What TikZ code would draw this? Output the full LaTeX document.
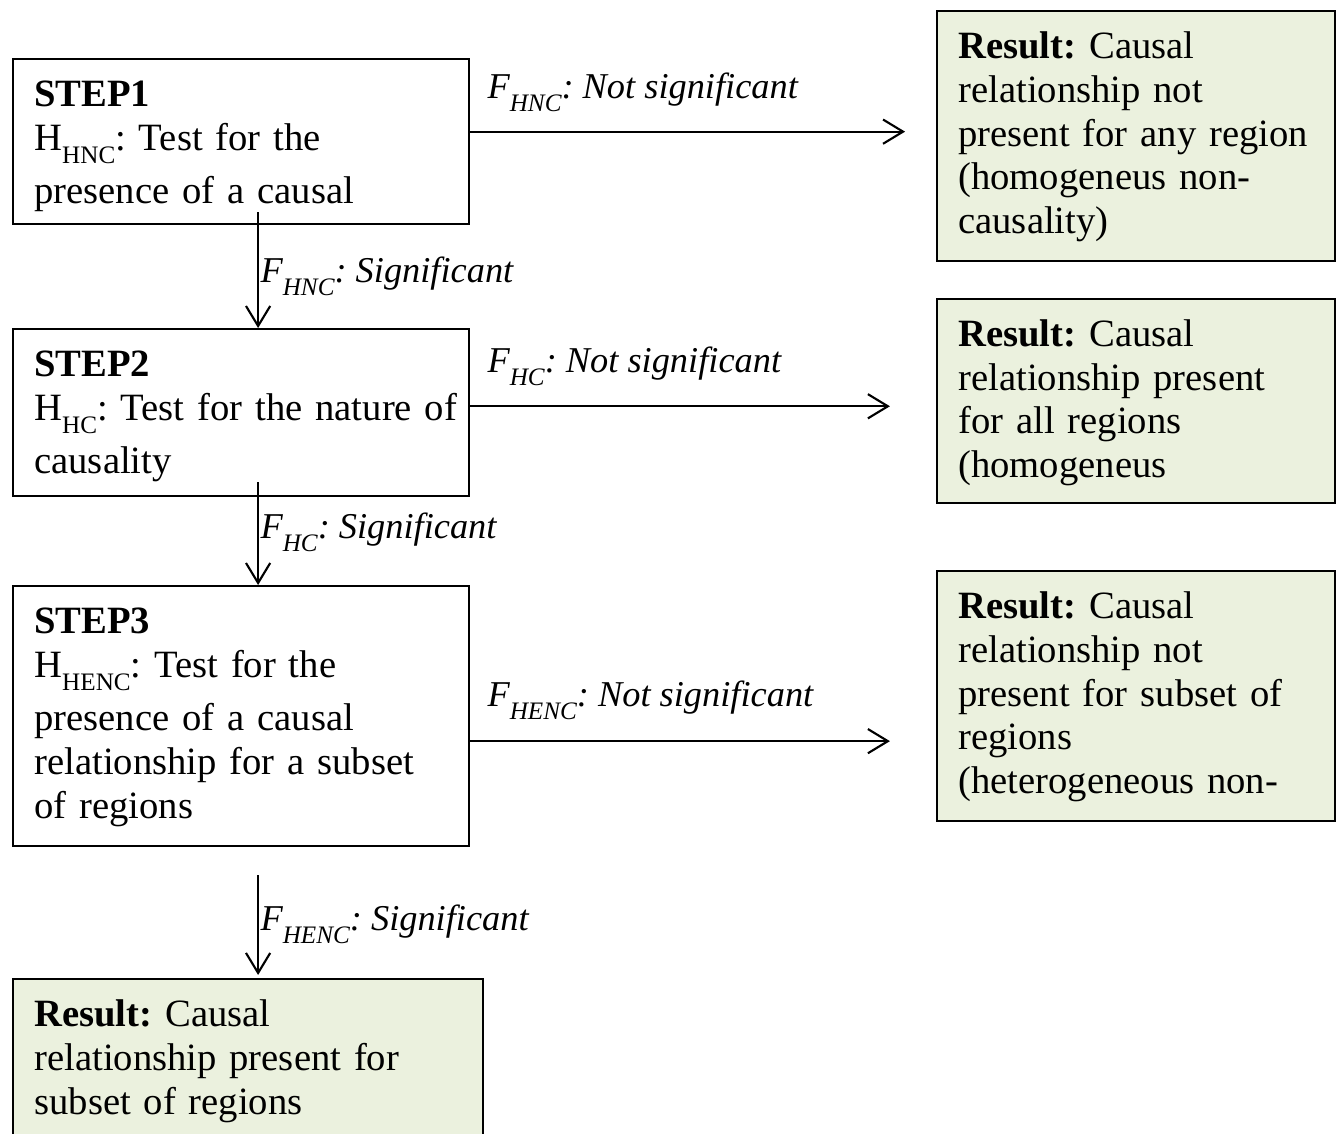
\documentclass[tikz,border=0pt]{standalone}
\usepackage{fontspec}
\setmainfont{Liberation Serif}
\usepackage{xcolor}
\usetikzlibrary{arrows.meta,positioning,calc}
\definecolor{resfill}{HTML}{EBF1DE}
\frenchspacing
\hyphenpenalty=10000
\newcommand{\lowsub}[1]{\raisebox{-4.5pt}{\fontsize{8.3}{8.3}\selectfont #1}}
\newcommand{\keeplines}{\rightskip=0pt plus 1fil minus 40pt\relax}
\tikzset{stepbox/.style={draw=black,line width=0.75pt,anchor=north west,align=left,
  inner xsep=7pt,inner ysep=0pt,text width=136.48pt,text height=15.5pt,text depth=#1,
  font=\fontsize{12.75}{14.5}\selectfont},
  resbox/.style={stepbox=#1,fill=resfill,text width=117.34pt},
  arrow/.style={-{Straight Barb[length=6.6pt,width=8pt]},line width=0.7pt},
  lbl/.style={anchor=base west,inner sep=0pt,font=\fontsize{12}{14.5}\selectfont\itshape}}

\begin{document}
\begin{tikzpicture}[x=0.33pt,y=-0.33pt]
\useasboundingbox (0,0) rectangle (1336,1133);
\clip (0,0) rectangle (1336,1133);
% test steps
\node[stepbox=38.95pt] (step1) at (12,58) {\keeplines\textbf{STEP1}\\H\lowsub{HNC}: Test for the\\[3.3pt]presence of a causal};
\node[stepbox=39.6pt] (step2) at (12,328) {\keeplines\textbf{STEP2}\\H\lowsub{HC}: Test for the nature of\\[3.3pt]causality};
\node[stepbox=70.3pt] (step3) at (12,585) {\keeplines\textbf{STEP3}\\H\lowsub{HENC}: Test for the\\[3.3pt]presence of a causal\\relationship for a subset\\of regions};
% results
\node[resbox=67pt] (res1) at (936,10) {\keeplines\textbf{Result:} Causal\\relationship not\\present for any region\\(homogeneus non-\\causality)};
\node[resbox=51.8pt] (res2) at (936,298) {\keeplines\textbf{Result:} Causal\\relationship present\\for all regions\\(homogeneus};
\node[resbox=67pt] (res3) at (936,570) {\keeplines\textbf{Result:} Causal\\relationship not\\present for subset of\\regions\\(heterogeneous non-};
\node[resbox=60pt,text width=141.1pt] (res4) at (12,978) {\keeplines\textbf{Result:} Causal\\relationship present for\\subset of regions};
% labels
\node[lbl] (ns1) at (487,98) {F\lowsub{HNC}: Not significant};
\node[lbl] (sg1) at (260,282) {F\lowsub{HNC}: Significant};
\node[lbl] (ns2) at (487,372) {F\lowsub{HC}: Not significant};
\node[lbl] (sg2) at (260,538) {F\lowsub{HC}: Significant};
\node[lbl] (ns3) at (487,706) {F\lowsub{HENC}: Not significant};
\node[lbl] (sg3) at (260,930) {F\lowsub{HENC}: Significant};
% arrows
\draw[arrow,shorten >=10.2pt] ([yshift=3.3pt]step1.east) -- ([yshift=3.3pt]step1.east -| res1.west);
\draw[arrow,shorten >=15.2pt] ([yshift=2.1pt]step2.east) -- ([yshift=2.1pt]step2.east -| res2.west);
\draw[arrow,shorten >=15.2pt] ([yshift=-8.25pt]step3.east) -- ([yshift=-8.25pt]step3.east -| res3.west);
\draw[arrow,shorten <=-4.3pt] ([xshift=5.6pt]step1.south) -- ([xshift=5.6pt]step1.south |- step2.north);
\draw[arrow,shorten <=-5pt] ([xshift=5.6pt]step2.south) -- ([xshift=5.6pt]step2.south |- step3.north);
\draw[arrow,shorten <=9.2pt,shorten >=1pt] ([xshift=5.6pt]step3.south) -- ([xshift=5.6pt]step3.south |- res4.north);
\end{tikzpicture}
\end{document}
